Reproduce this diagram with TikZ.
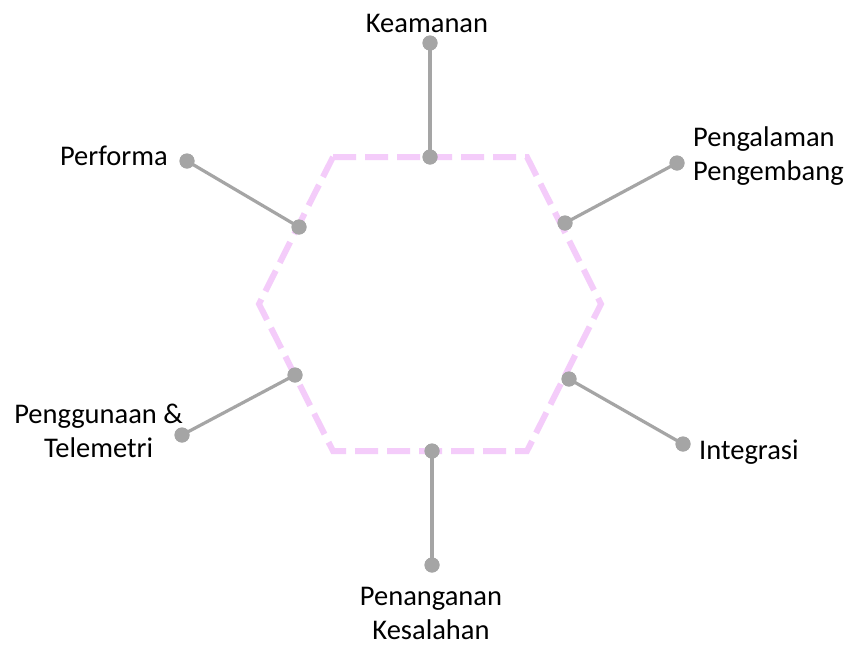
\documentclass[tikz,border=0pt]{standalone}
\usepackage{fontspec}
\setmainfont{Carlito}
\definecolor{hexpink}{RGB}{244,204,250}
\definecolor{dotgray}{RGB}{165,165,165}
\begin{document}
\begin{tikzpicture}[x=1pt,y=-1pt,
  lbl/.style={inner sep=0pt,font=\fontsize{28.5}{34}\selectfont,text=black},
  conn/.style={draw=dotgray,line width=3.2pt},
  dotc/.style={circle,fill=dotgray,minimum size=15pt,inner sep=0pt}]
\useasboundingbox[fill=white] (0,0) rectangle (848,646);
% hexagon
\coordinate (h1) at (333,157);
\coordinate (h2) at (527,157);
\coordinate (h3) at (601,304);
\coordinate (h4) at (527,451);
\coordinate (h5) at (333,451);
\coordinate (h6) at (259,304);
\draw[hexpink,line width=6pt,dash pattern=on 23pt off 9pt] (h1) -- (h2) -- (h3) -- (h4) -- (h5) -- (h6) -- cycle;
% dots
\node[dotc] (ki) at (430,157) {};
\node[dotc] (ko) at (430,43) {};
\node[dotc] (pi) at (565,223) {};
\node[dotc] (po) at (677,163) {};
\node[dotc] (ii) at (569,379) {};
\node[dotc] (io) at (683,444) {};
\node[dotc] (ni) at (432,451) {};
\node[dotc] (no) at (432,565) {};
\node[dotc] (gi) at (295,375) {};
\node[dotc] (go) at (182,435) {};
\node[dotc] (fi) at (299,227) {};
\node[dotc] (fo) at (187,161) {};
\draw[conn] (ki.center) -- (ko.center);
\draw[conn] (pi.center) -- (po.center);
\draw[conn] (ii.center) -- (io.center);
\draw[conn] (ni.center) -- (no.center);
\draw[conn] (gi.center) -- (go.center);
\draw[conn] (fi.center) -- (fo.center);
\foreach \n in {ki,ko,pi,po,ii,io,ni,no,gi,go,fi,fo} \fill[dotgray] (\n) circle (7.5pt);
% labels
\node[lbl,anchor=base] (tk) at (427,32) {Keamanan};
\node[lbl,anchor=base west,align=left] (tp) at (693,180) {Pengalaman\\Pengembang};
\node[lbl,anchor=base west] (ti) at (699,459) {Integrasi};
\node[lbl,anchor=base,align=center] (tn) at (431,639) {Penanganan\\Kesalahan};
\node[lbl,anchor=base east,align=center] (tg) at (183,457) {Penggunaan \&\\Telemetri};
\node[lbl,anchor=base east] (tf) at (168,165) {Performa};
\end{tikzpicture}
\end{document}
